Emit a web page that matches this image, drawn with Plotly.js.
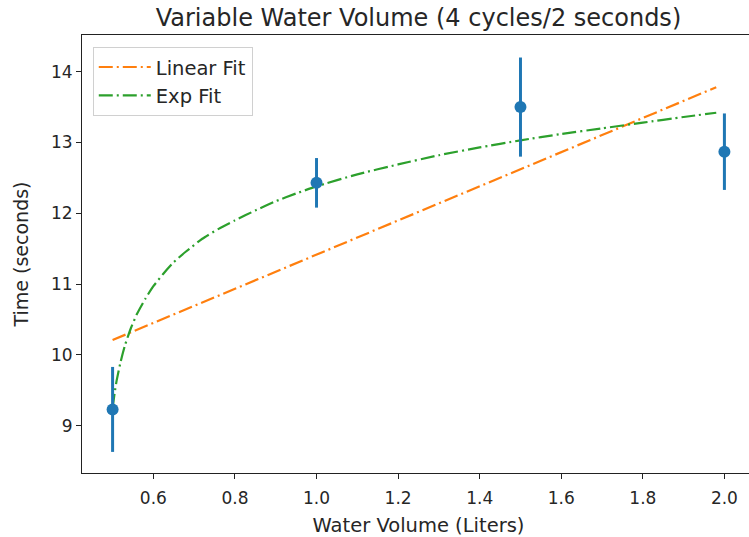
<!DOCTYPE html>
<html>
<head>
<meta charset="utf-8">
<script src="https://cdn.plot.ly/plotly-3.0.1.min.js"></script>
<style>
html, body { margin: 0; padding: 0; overflow: hidden; background: #fff; }
#chart { width: 762px; height: 537px; }
</style>
</head>
<body>
<div id="chart"></div>
<script>
const volume = [0.5, 1.0, 1.5, 2.0];
const timeMean = [9.23, 12.43, 13.5, 12.87];
const timeErr = [0.6, 0.35, 0.7, 0.54];

// Linear fit line
const linFitX = [0.5, 1.98];
const linFitY = [10.21, 13.78];

// Exp fit curve (smoothed by eye)
const expFitX = [0.5, 0.505, 0.51, 0.52, 0.53, 0.545, 0.56, 0.58, 0.6, 0.625, 0.65, 0.68, 0.72, 0.76, 0.8, 0.85, 0.9, 0.95, 1.0, 1.1, 1.2, 1.3, 1.4, 1.5, 1.6, 1.7, 1.8, 1.9, 1.98];
const expFitY = [9.25, 9.46, 9.64, 9.91, 10.13, 10.38, 10.58, 10.79, 10.97, 11.15, 11.31, 11.46, 11.64, 11.78, 11.9, 12.04, 12.17, 12.28, 12.38, 12.55, 12.69, 12.82, 12.93, 13.03, 13.12, 13.2, 13.28, 13.36, 13.42];

const xTicks = [0.6, 0.8, 1.0, 1.2, 1.4, 1.6, 1.8, 2.0];
const xTickText = ['0.6', '0.8', '1.0', '1.2', '1.4', '1.6', '1.8', '2.0'];
const yTicks = [9, 10, 11, 12, 13, 14];

const FONT = 'DejaVu Sans, sans-serif';
const TXT = '#262626';
const dashDot = '14px,4px,2px,4px';

const traces = [
  {
    x: linFitX, y: linFitY, type: 'scatter', mode: 'lines', name: 'Linear Fit',
    line: { color: '#ff7f0e', width: 2.2, dash: dashDot }
  },
  {
    x: expFitX, y: expFitY, type: 'scatter', mode: 'lines', name: 'Exp Fit',
    line: { color: '#2ca02c', width: 2.2, dash: dashDot, shape: 'spline', smoothing: 0.5 }
  },
  {
    x: volume, y: timeMean, type: 'scatter', mode: 'markers', showlegend: false,
    marker: { color: '#1f77b4', size: 12 },
    error_y: { type: 'data', array: timeErr, visible: true, color: '#1f77b4', thickness: 3, width: 0 }
  }
];

const axisCommon = {
  showgrid: false, zeroline: false, showline: true, mirror: true,
  linecolor: '#222', linewidth: 1,
  ticks: 'outside', ticklen: 5, tickwidth: 1, tickcolor: '#222',
  tickfont: { family: FONT, size: 17, color: TXT }
};

const layout = {
  width: 762, height: 537,
  margin: { l: 82, r: 7, t: 35, b: 64 },
  paper_bgcolor: '#fff', plot_bgcolor: '#fff',
  font: { family: FONT, color: TXT },
  title: {
    text: 'Variable Water Volume (4 cycles/2 seconds)',
    font: { family: FONT, size: 24, color: TXT },
    x: 0.5, xref: 'paper', xanchor: 'center',
    y: 1, yref: 'paper', yanchor: 'bottom', pad: { b: 9 }
  },
  xaxis: Object.assign({}, axisCommon, {
    range: [0.425, 2.075],
    tickmode: 'array', tickvals: xTicks, ticktext: xTickText,
    ticklabelstandoff: 5,
    title: { text: 'Water Volume (Liters)', font: { family: FONT, size: 19.5, color: TXT }, standoff: 10 }
  }),
  yaxis: Object.assign({}, axisCommon, {
    range: [8.332, 14.518],
    tickmode: 'array', tickvals: yTicks,
    title: { text: 'Time (seconds)', font: { family: FONT, size: 19, color: TXT }, standoff: 17 }
  }),
  legend: {
    x: 0.016, y: 0.973, xanchor: 'left', yanchor: 'top',
    bgcolor: 'rgba(255,255,255,0.8)', bordercolor: '#d0d0d0', borderwidth: 1,
    font: { family: FONT, size: 19.5, color: TXT },
    itemwidth: 52,
    tracegroupgap: 0
  },
  showlegend: true
};

Plotly.newPlot('chart', traces, layout, { displayModeBar: false, staticPlot: true });
</script>
</body>
</html>
